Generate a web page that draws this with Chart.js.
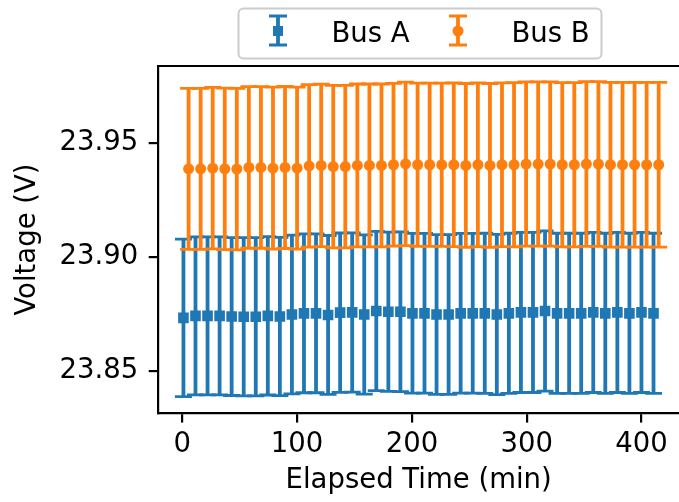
<!DOCTYPE html>
<html>
<head>
<meta charset="utf-8">
<script src="https://cdn.jsdelivr.net/npm/chart.js@4.4.1/dist/chart.umd.min.js"></script>
<style>
  html, body { margin: 0; padding: 0; background: #fff; overflow: hidden; }
  #wrap { width: 679px; height: 502px; }
</style>
</head>
<body>
<div id="wrap"><canvas id="chart" width="679" height="502"></canvas></div>
<script>
// elapsed time (min) for each sample
const busATime = [1, 11.5, 22, 32.5, 43, 53.5, 64, 74.5, 85, 95.5, 106, 116.5, 127, 137.5, 148, 158.5, 169, 179.5, 190, 200.5,
  211, 221.5, 232, 242.5, 253, 263.5, 274, 284.5, 295, 305.5, 316, 326.5, 337, 347.5, 358, 368.5, 379, 389.5, 400, 410.5];
const busBTime = [5.5, 16, 26.5, 37, 47.5, 58, 68.5, 79, 89.5, 100, 110.5, 121, 131.5, 142, 152.5, 163, 173.5, 184, 194.5, 205,
  215.5, 226, 236.5, 247, 257.5, 268, 278.5, 289, 299.5, 310, 320.5, 331, 341.5, 352, 362.5, 373, 383.5, 394, 404.5, 415];

// mean voltage (V)
const busAVoltage = [23.8732, 23.8741, 23.8741, 23.8741, 23.8738, 23.8737, 23.8737, 23.8741, 23.8738, 23.8747,
  23.8752, 23.8752, 23.8745, 23.8755, 23.8756, 23.8747, 23.8762, 23.8759, 23.8759, 23.8752,
  23.8752, 23.8747, 23.8747, 23.8752, 23.8752, 23.8752, 23.8747, 23.8752, 23.8756, 23.8756,
  23.8762, 23.8752, 23.8752, 23.8752, 23.8756, 23.8752, 23.8756, 23.8752, 23.8756, 23.8752];
const busBVoltage = [23.9387, 23.9387, 23.9390, 23.9387, 23.9386, 23.9393, 23.9393, 23.9390, 23.9393, 23.9390,
  23.9400, 23.9402, 23.9397, 23.9397, 23.9402, 23.9402, 23.9402, 23.9405, 23.9409, 23.9405,
  23.9405, 23.9405, 23.9405, 23.9402, 23.9405, 23.9402, 23.9405, 23.9405, 23.9408, 23.9408,
  23.9408, 23.9405, 23.9405, 23.9408, 23.9408, 23.9405, 23.9405, 23.9405, 23.9405, 23.9405];

// error bar half-heights (V)
const busAError = [0.0346, 0.0347, 0.0347, 0.0347, 0.0347, 0.0348, 0.0348, 0.0348, 0.0348, 0.0349,
  0.0349, 0.0349, 0.0349, 0.0350, 0.0350, 0.0350, 0.0350, 0.0350, 0.0351, 0.0351,
  0.0351, 0.0351, 0.0351, 0.0351, 0.0351, 0.0352, 0.0352, 0.0352, 0.0352, 0.0352,
  0.0352, 0.0352, 0.0352, 0.0352, 0.0352, 0.0352, 0.0352, 0.0352, 0.0352, 0.0352];
const busBError = [0.0354, 0.0354, 0.0355, 0.0355, 0.0355, 0.0355, 0.0355, 0.0356, 0.0356, 0.0356,
  0.0357, 0.0357, 0.0357, 0.0357, 0.0358, 0.0358, 0.0358, 0.0358, 0.0359, 0.0359,
  0.0359, 0.0359, 0.0360, 0.0360, 0.0360, 0.0360, 0.0360, 0.0361, 0.0361, 0.0361,
  0.0361, 0.0361, 0.0361, 0.0362, 0.0362, 0.0362, 0.0362, 0.0362, 0.0362, 0.0362];

const xTicks = [0, 100, 200, 300, 400];
const yTicks = [23.85, 23.90, 23.95];
const seriesNames = ['Bus A', 'Bus B'];

const BLUE = '#1f77b4';
const ORANGE = '#ff7f0e';
const FONT = { family: 'DejaVu Sans', size: 27.5, lineHeight: 1.2 };
const CAP = 8.5;

function toPoints(xs, ys) {
  return xs.map((t, i) => ({ x: t, y: ys[i] }));
}

// vertical error bars with caps, drawn under each dataset's markers
const errorBars = {
  id: 'errorBars',
  beforeDatasetDraw(chart, args) {
    const ds = chart.data.datasets[args.index];
    const errs = ds.yErr;
    if (!errs) return;
    const { ctx, chartArea, scales: { x, y } } = chart;
    ctx.save();
    ctx.beginPath();
    ctx.rect(chartArea.left, chartArea.top, chartArea.width, chartArea.height);
    ctx.clip();
    ctx.strokeStyle = ds.borderColor;
    ds.data.forEach((p, i) => {
      const px = x.getPixelForValue(p.x);
      const top = y.getPixelForValue(p.y + errs[i]);
      const bot = y.getPixelForValue(p.y - errs[i]);
      ctx.lineWidth = 3.8;
      ctx.beginPath();
      ctx.moveTo(px, top);
      ctx.lineTo(px, bot);
      ctx.stroke();
      ctx.lineWidth = 2.8;
      ctx.beginPath();
      ctx.moveTo(px - CAP, top); ctx.lineTo(px + CAP, top);
      ctx.moveTo(px - CAP, bot); ctx.lineTo(px + CAP, bot);
      ctx.stroke();
    });
    ctx.restore();
  }
};

function drawIcon(ctx, cx, cy, color, shape) {
  ctx.strokeStyle = color;
  ctx.fillStyle = color;
  ctx.lineWidth = 3.8;
  ctx.beginPath();
  ctx.moveTo(cx, cy - 15); ctx.lineTo(cx, cy + 14);
  ctx.stroke();
  ctx.lineWidth = 2.8;
  ctx.beginPath();
  ctx.moveTo(cx - 9, cy - 15); ctx.lineTo(cx + 9, cy - 15);
  ctx.moveTo(cx - 9, cy + 14); ctx.lineTo(cx + 9, cy + 14);
  ctx.stroke();
  ctx.beginPath();
  if (shape === 'rect') ctx.rect(cx - 5, cy - 5, 10, 10);
  else ctx.arc(cx, cy, 5.5, 0, Math.PI * 2);
  ctx.fill();
}

// top spine + legend box
const frameAndLegend = {
  id: 'frameAndLegend',
  afterDraw(chart) {
    const { ctx, chartArea } = chart;
    ctx.save();
    ctx.strokeStyle = '#000';
    ctx.lineWidth = 2.2;
    ctx.beginPath();
    ctx.moveTo(chartArea.left - 1.1, chartArea.top);
    ctx.lineTo(chartArea.right, chartArea.top);
    ctx.stroke();

    // legend frame
    const lx = 238.5, ly = 8.5, lw = 363, lh = 50, r = 5;
    ctx.beginPath();
    ctx.roundRect(lx, ly, lw, lh, r);
    ctx.fillStyle = 'rgba(255,255,255,0.8)';
    ctx.fill();
    ctx.strokeStyle = '#cccccc';
    ctx.lineWidth = 2;
    ctx.stroke();

    drawIcon(ctx, 278, 31, BLUE, 'rect');
    drawIcon(ctx, 458, 31, ORANGE, 'circle');
    ctx.fillStyle = '#000';
    ctx.font = '27.5px "DejaVu Sans"';
    ctx.textBaseline = 'alphabetic';
    ctx.textAlign = 'left';
    ctx.fillText(seriesNames[0], 331.5, 41.5);
    ctx.fillText(seriesNames[1], 511.5, 41.5);
    ctx.restore();
  }
};

const axisGrid = { display: true, drawOnChartArea: false, drawTicks: true, tickLength: 9.6, color: '#000', lineWidth: 2.2 };
const axisBorder = { display: true, color: '#000', width: 2.2 };

new Chart(document.getElementById('chart'), {
  type: 'scatter',
  data: {
    datasets: [
      {
        label: seriesNames[0],
        data: toPoints(busATime, busAVoltage),
        yErr: busAError,
        borderColor: BLUE,
        backgroundColor: BLUE,
        pointStyle: 'rect',
        pointRadius: 7.5,
        pointBorderWidth: 0,
        order: 1
      },
      {
        label: seriesNames[1],
        data: toPoints(busBTime, busBVoltage),
        yErr: busBError,
        borderColor: ORANGE,
        backgroundColor: ORANGE,
        pointStyle: 'circle',
        pointRadius: 5.5,
        pointBorderWidth: 0,
        order: 0
      }
    ]
  },
  options: {
    responsive: false,
    animation: false,
    devicePixelRatio: 1,
    layout: { autoPadding: false, padding: { top: 66, left: 0, right: 0, bottom: 0 } },
    plugins: {
      legend: { display: false },
      tooltip: { enabled: false }
    },
    scales: {
      x: {
        type: 'linear',
        min: -20.9,
        max: 432.7,
        afterBuildTicks: (axis) => { axis.ticks = xTicks.map(v => ({ value: v })); },
        afterFit: (axis) => {
          axis.height = 89;
          axis.paddingLeft = 0;
          axis.paddingRight = 0;
        },
        grid: axisGrid,
        border: axisBorder,
        ticks: { font: FONT, color: '#000', padding: 6, maxRotation: 0, callback: v => String(v) },
        title: { display: true, text: 'Elapsed Time (min)', font: FONT, color: '#000', padding: { top: 0, bottom: 5 } }
      },
      y: {
        type: 'linear',
        min: 23.8314,
        max: 23.9839,
        afterBuildTicks: (axis) => { axis.ticks = yTicks.map(v => ({ value: v })); },
        afterFit: (axis) => {
          axis.width = 158.3;
          axis.paddingTop = 0;
          axis.paddingBottom = 0;
        },
        grid: axisGrid,
        border: axisBorder,
        ticks: { font: FONT, color: '#000', padding: 10.5, callback: v => Number(v).toFixed(2) },
        title: { display: true, text: 'Voltage (V)', font: FONT, color: '#000', padding: { top: 11, bottom: 0 } }
      }
    }
  },
  plugins: [errorBars, frameAndLegend]
});
</script>
</body>
</html>
